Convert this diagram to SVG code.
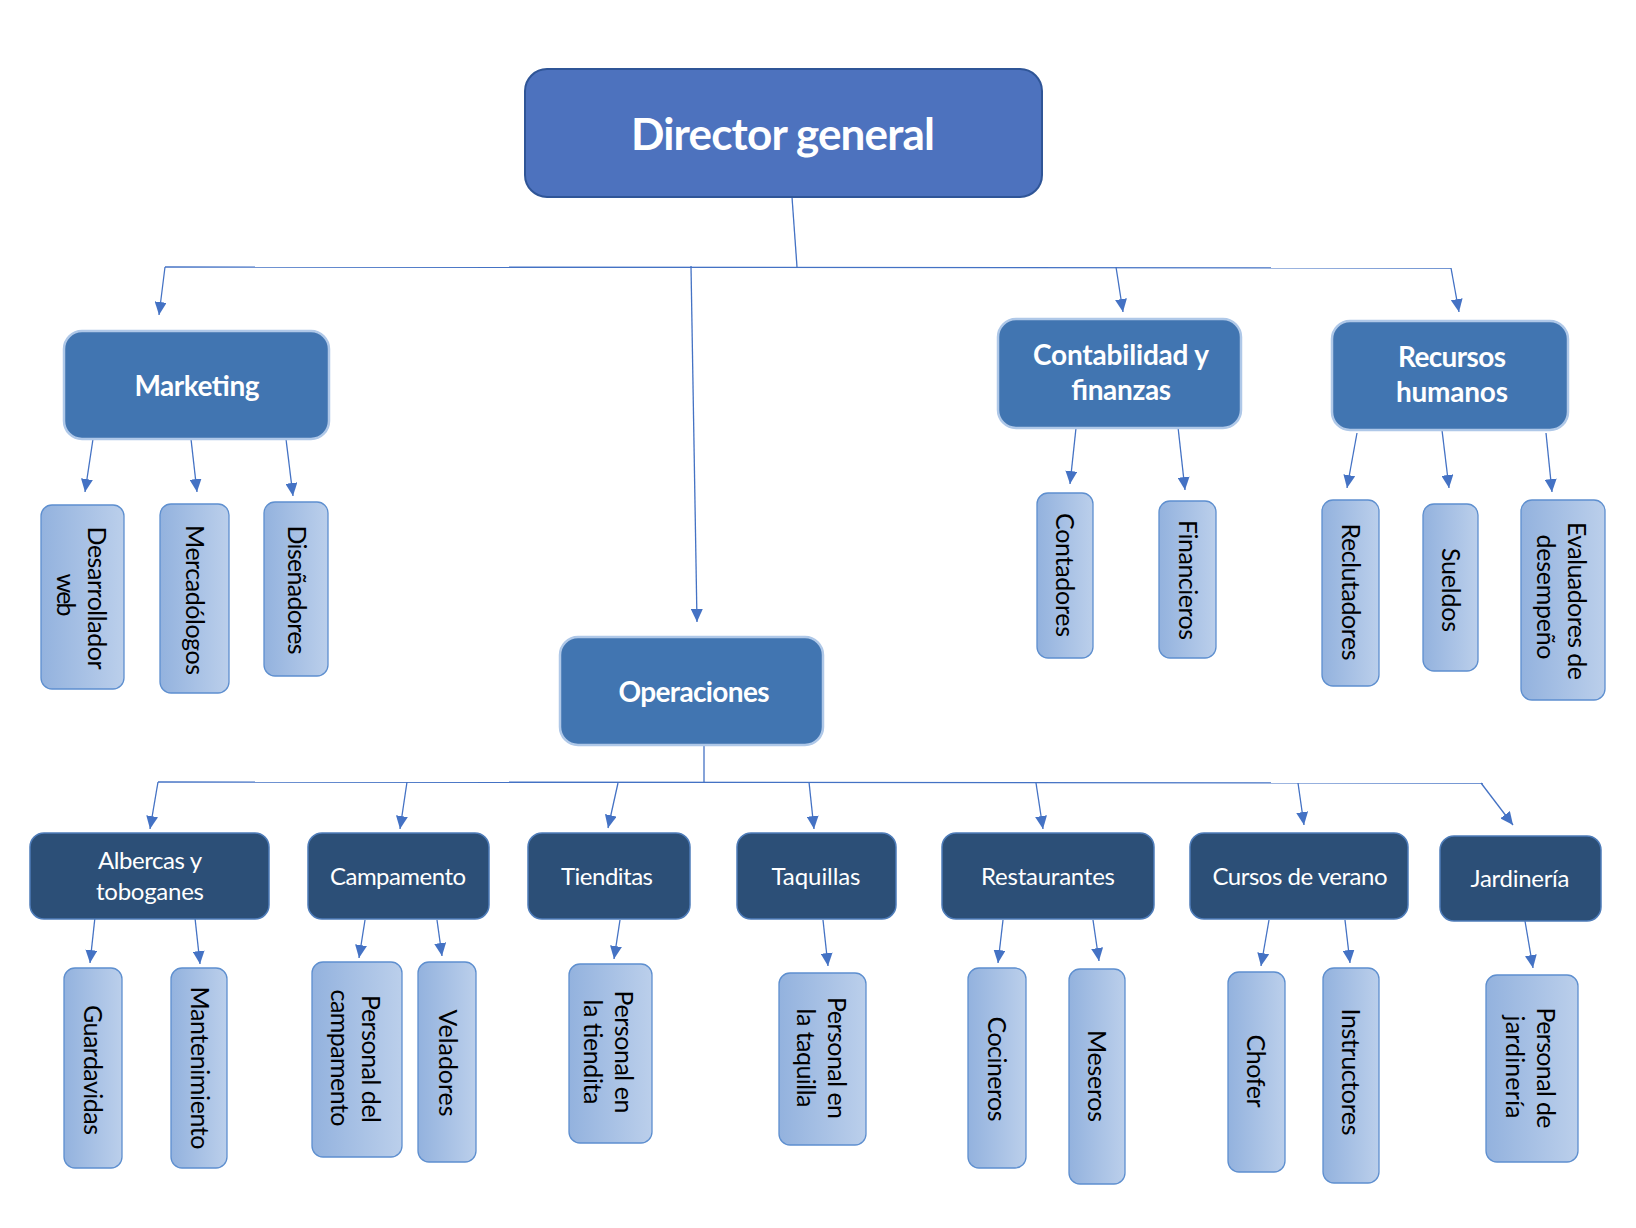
<svg xmlns="http://www.w3.org/2000/svg" width="1636" height="1228" viewBox="0 0 1636 1228">
<style>
text{font-family:Lato,"Liberation Sans","DejaVu Sans",sans-serif;text-anchor:middle}
.dir{fill:#4D72BE;stroke:#2F5597;stroke-width:2}
.dept{fill:#4175B1;stroke:#AFC8E8;stroke-width:2.5}
.area{fill:#2C4F77;stroke:#4E7CB9;stroke-width:1.5}
.leaf{fill:url(#lg);stroke:#5E8FCF;stroke-width:1.3}
.tdir{fill:#fff;font-weight:bold;font-size:44px}
.tdept{fill:#fff;font-weight:bold;font-size:28px}
.tarea{fill:#fff;font-size:24px}
.tleaf{fill:#000;font-size:25px}
.c line{stroke:#4472C4;stroke-width:1.3;fill:none}
.c line.a{marker-end:url(#arr)}
</style>
<defs>
<linearGradient id="lg" x1="0" y1="0" x2="1" y2="0">
<stop offset="0" stop-color="#93B2DE"/>
<stop offset="1" stop-color="#BBCFEB"/>
</linearGradient>
<marker id="arr" markerUnits="userSpaceOnUse" markerWidth="13" markerHeight="12" refX="13" refY="6" orient="auto">
<path d="M0,0 L13,6 L0,12 z" fill="#4472C4"/>
</marker>
</defs>
<rect width="1636" height="1228" fill="#fff"/>
<g id="connectors" class="c">
<line x1="792" y1="197" x2="797" y2="267"/>
<line x1="165" y1="267" x2="1451" y2="268"/>
<line class="a" x1="165" y1="267" x2="159" y2="315"/>
<line class="a" x1="691" y1="266" x2="697" y2="622"/>
<line class="a" x1="1116" y1="267" x2="1123" y2="312"/>
<line class="a" x1="1451" y1="268" x2="1459" y2="312"/>
<line class="a" x1="93" y1="439" x2="85" y2="492"/>
<line class="a" x1="191" y1="439" x2="197" y2="492"/>
<line class="a" x1="286" y1="439" x2="293" y2="496"/>
<line class="a" x1="1076" y1="428" x2="1070" y2="484"/>
<line class="a" x1="1178" y1="427" x2="1185" y2="490"/>
<line class="a" x1="1357" y1="433" x2="1347" y2="488"/>
<line class="a" x1="1442" y1="430" x2="1449" y2="488"/>
<line class="a" x1="1546" y1="433" x2="1552" y2="492"/>
<line x1="704" y1="745" x2="704" y2="782"/>
<line x1="158" y1="782" x2="1483" y2="783"/>
<line class="a" x1="158" y1="782" x2="150" y2="829"/>
<line class="a" x1="407" y1="782" x2="400" y2="829"/>
<line class="a" x1="618" y1="783" x2="608" y2="828"/>
<line class="a" x1="809" y1="782" x2="814" y2="829"/>
<line class="a" x1="1036" y1="783" x2="1043" y2="829"/>
<line class="a" x1="1298" y1="783" x2="1304" y2="825"/>
<line class="a" x1="1481" y1="783" x2="1513" y2="825"/>
<line class="a" x1="95" y1="917" x2="90" y2="963"/>
<line class="a" x1="195" y1="918" x2="200" y2="964"/>
<line class="a" x1="365" y1="920" x2="359" y2="958"/>
<line class="a" x1="437" y1="920" x2="442" y2="956"/>
<line class="a" x1="620" y1="920" x2="614" y2="959"/>
<line class="a" x1="823" y1="920" x2="828" y2="966"/>
<line class="a" x1="1003" y1="920" x2="998" y2="963"/>
<line class="a" x1="1093" y1="920" x2="1099" y2="961"/>
<line class="a" x1="1269" y1="920" x2="1261" y2="966"/>
<line class="a" x1="1345" y1="920" x2="1350" y2="963"/>
<line class="a" x1="1525" y1="921" x2="1533" y2="968"/>
</g>

<g id="director">
<rect class="dir" x="525" y="69" width="517" height="128" rx="22"/>
<text class="tdir" x="783" y="150" textLength="304">Director general</text>
</g>

<g id="marketing">
<rect class="dept" x="64" y="331" width="265" height="108" rx="18"/>
<text class="tdept" x="197" y="396" textLength="125">Marketing</text>
</g>
<g id="contabilidad">
<rect class="dept" x="998" y="319" width="243" height="109" rx="18"/>
<text class="tdept" x="1121" y="365" textLength="176">Contabilidad y</text>
<text class="tdept" x="1121" y="400" textLength="100">finanzas</text>
</g>
<g id="recursos">
<rect class="dept" x="1332" y="321" width="236" height="109" rx="18"/>
<text class="tdept" x="1452" y="367" textLength="108">Recursos</text>
<text class="tdept" x="1452" y="402" textLength="112">humanos</text>
</g>
<g id="operaciones">
<rect class="dept" x="560" y="637" width="263" height="108" rx="18"/>
<text class="tdept" x="694" y="702" textLength="151">Operaciones</text>
</g>

<g id="albercas">
<rect class="area" x="30" y="833" width="239" height="86" rx="14"/>
<text class="tarea" x="150" y="869" textLength="104">Albercas y</text>
<text class="tarea" x="150" y="900" textLength="108">toboganes</text>
</g>
<g id="campamento">
<rect class="area" x="308" y="833" width="181" height="86" rx="14"/>
<text class="tarea" x="398" y="885" textLength="136">Campamento</text>
</g>
<g id="tienditas">
<rect class="area" x="528" y="833" width="162" height="86" rx="14"/>
<text class="tarea" x="607" y="885" textLength="92">Tienditas</text>
</g>
<g id="taquillas">
<rect class="area" x="737" y="833" width="159" height="86" rx="14"/>
<text class="tarea" x="816" y="885" textLength="89">Taquillas</text>
</g>
<g id="restaurantes">
<rect class="area" x="942" y="833" width="212" height="86" rx="14"/>
<text class="tarea" x="1048" y="885" textLength="134">Restaurantes</text>
</g>
<g id="cursos">
<rect class="area" x="1190" y="833" width="218" height="86" rx="14"/>
<text class="tarea" x="1300" y="885" textLength="175">Cursos de verano</text>
</g>
<g id="jardineria">
<rect class="area" x="1440" y="836" width="161" height="85" rx="14"/>
<text class="tarea" x="1520" y="887" textLength="99">Jardinería</text>
</g>

<g id="desarrollador">
<rect class="leaf" x="41" y="505" width="83" height="184" rx="11"/>
<text class="tleaf" transform="translate(81,598) rotate(90)" y="-7" textLength="143">Desarrollador</text>
<text class="tleaf" transform="translate(81,595) rotate(90)" y="24" textLength="43">web</text>
</g>
<g id="mercadologos">
<rect class="leaf" x="160" y="504" width="69" height="189" rx="11"/>
<text class="tleaf" transform="translate(194,600) rotate(90)" y="8" textLength="150">Mercadólogos</text>
</g>
<g id="disenadores">
<rect class="leaf" x="264" y="502" width="64" height="174" rx="11"/>
<text class="tleaf" transform="translate(296,590) rotate(90)" y="8" textLength="129">Diseñadores</text>
</g>
<g id="contadores">
<rect class="leaf" x="1037" y="493" width="56" height="165" rx="11"/>
<text class="tleaf" transform="translate(1064,575) rotate(90)" y="8" textLength="124">Contadores</text>
</g>
<g id="financieros">
<rect class="leaf" x="1159" y="501" width="57" height="157" rx="11"/>
<text class="tleaf" transform="translate(1187,580) rotate(90)" y="8" textLength="120">Financieros</text>
</g>
<g id="reclutadores">
<rect class="leaf" x="1322" y="500" width="57" height="186" rx="11"/>
<text class="tleaf" transform="translate(1350,592) rotate(90)" y="8" textLength="137">Reclutadores</text>
</g>
<g id="sueldos">
<rect class="leaf" x="1423" y="504" width="55" height="167" rx="11"/>
<text class="tleaf" transform="translate(1450,590) rotate(90)" y="8" textLength="84">Sueldos</text>
</g>
<g id="evaluadores">
<rect class="leaf" x="1521" y="500" width="84" height="200" rx="11"/>
<text class="tleaf" transform="translate(1561,601) rotate(90)" y="-7" textLength="158">Evaluadores de</text>
<text class="tleaf" transform="translate(1561,597) rotate(90)" y="24" textLength="125">desempeño</text>
</g>

<g id="guardavidas">
<rect class="leaf" x="64" y="968" width="58" height="200" rx="11"/>
<text class="tleaf" transform="translate(92,1070) rotate(90)" y="8" textLength="130">Guardavidas</text>
</g>
<g id="mantenimiento">
<rect class="leaf" x="171" y="968" width="56" height="200" rx="11"/>
<text class="tleaf" transform="translate(199,1068) rotate(90)" y="8" textLength="163">Mantenimiento</text>
</g>
<g id="personal-campamento">
<rect class="leaf" x="312" y="962" width="90" height="195" rx="11"/>
<text class="tleaf" transform="translate(355,1059) rotate(90)" y="-7" textLength="128">Personal del</text>
<text class="tleaf" transform="translate(355,1058) rotate(90)" y="24" textLength="137">campamento</text>
</g>
<g id="veladores">
<rect class="leaf" x="418" y="962" width="58" height="200" rx="11"/>
<text class="tleaf" transform="translate(447,1063) rotate(90)" y="8" textLength="107">Veladores</text>
</g>
<g id="personal-tiendita">
<rect class="leaf" x="569" y="964" width="83" height="179" rx="11"/>
<text class="tleaf" transform="translate(608,1052) rotate(90)" y="-7" textLength="123">Personal en</text>
<text class="tleaf" transform="translate(608,1052) rotate(90)" y="24" textLength="105">la tiendita</text>
</g>
<g id="personal-taquilla">
<rect class="leaf" x="779" y="973" width="87" height="172" rx="11"/>
<text class="tleaf" transform="translate(821,1058) rotate(90)" y="-7" textLength="122">Personal en</text>
<text class="tleaf" transform="translate(821,1058) rotate(90)" y="24" textLength="99">la taquilla</text>
</g>
<g id="cocineros">
<rect class="leaf" x="968" y="968" width="58" height="200" rx="11"/>
<text class="tleaf" transform="translate(996,1069) rotate(90)" y="8" textLength="105">Cocineros</text>
</g>
<g id="meseros">
<rect class="leaf" x="1069" y="969" width="56" height="215" rx="11"/>
<text class="tleaf" transform="translate(1096,1076) rotate(90)" y="8" textLength="92">Meseros</text>
</g>
<g id="chofer">
<rect class="leaf" x="1228" y="972" width="57" height="200" rx="11"/>
<text class="tleaf" transform="translate(1255,1071) rotate(90)" y="8" textLength="73">Chofer</text>
</g>
<g id="instructores">
<rect class="leaf" x="1323" y="968" width="56" height="215" rx="11"/>
<text class="tleaf" transform="translate(1350,1072) rotate(90)" y="8" textLength="127">Instructores</text>
</g>
<g id="personal-jardineria">
<rect class="leaf" x="1486" y="975" width="92" height="187" rx="11"/>
<text class="tleaf" transform="translate(1530,1068) rotate(90)" y="-7" textLength="121">Personal de</text>
<text class="tleaf" transform="translate(1530,1067) rotate(90)" y="24" textLength="103">jardinería</text>
</g>
</svg>
